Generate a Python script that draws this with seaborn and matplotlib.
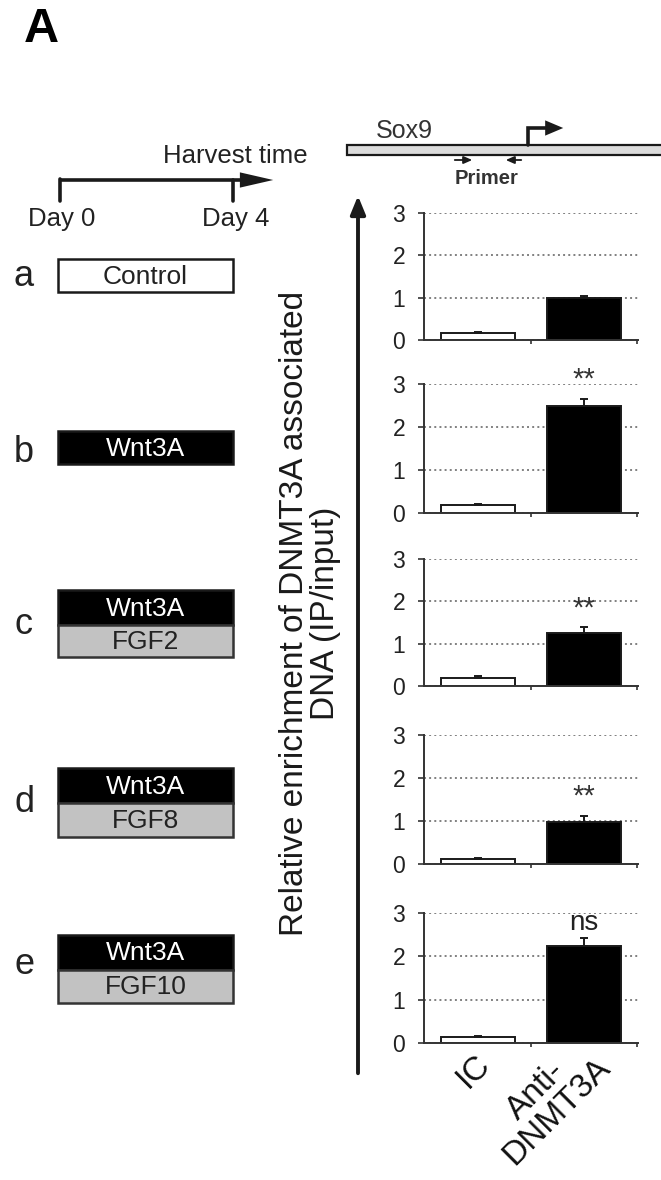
import matplotlib
matplotlib.use("Agg")
import matplotlib.pyplot as plt
import matplotlib.transforms as mtransforms
from matplotlib.patches import Rectangle, FancyArrowPatch
import seaborn as sns
import pandas as pd
import numpy as np

# ---------------- data ----------------
antibodies = ["IC", "Anti-DNMT3A"]
tick_labels = ["IC", "Anti-\nDNMT3A"]
conditions = ["a", "b", "c", "d", "e"]
cond_top = ["Control", "Wnt3A", "Wnt3A", "Wnt3A", "Wnt3A"]
cond_bottom = [None, None, "FGF2", "FGF8", "FGF10"]
ic_values = [0.17, 0.19, 0.20, 0.12, 0.15]
ic_errors = [0.02, 0.03, 0.03, 0.01, 0.01]
anti_values = [1.00, 2.49, 1.25, 0.98, 2.24]
anti_errors = [0.05, 0.16, 0.14, 0.14, 0.18]
significance = ["", "**", "**", "**", "ns"]
y_ticks = [0, 1, 2, 3]

# ---------------- style ----------------
sns.set_theme(style="white")
plt.rcParams["font.family"] = ["Liberation Sans", "DejaVu Sans"]

W, H = 661, 1180
fig = plt.figure(figsize=(W / 100, H / 100), dpi=100)

# overlay axes in pixel coordinates for the schematic parts
ov = fig.add_axes([0, 0, 1, 1])
ov.set_xlim(0, W)
ov.set_ylim(H, 0)
ov.axis("off")

dark = "#1a1a1a"

# panel letter
ov.text(24, 29, "A", fontsize=35, fontweight="bold", va="center", ha="left", color="black")

# timeline
ov.plot([60, 246], [180, 180], color=dark, lw=2.6, solid_capstyle="butt")
ov.plot([60, 60], [179, 201], color=dark, lw=2.6)
ov.plot([233, 233], [180, 201], color=dark, lw=2.6)
ov.add_patch(FancyArrowPatch((238, 180), (276, 180), arrowstyle="-|>,head_length=2.4,head_width=0.55",
                             mutation_scale=10, color=dark, lw=0))
ov.text(235, 156, "Harvest time", fontsize=18.5, ha="center", va="center", color="#222")
ov.text(62, 219, "Day 0", fontsize=18.5, ha="center", va="center", color="#222")
ov.text(236, 219, "Day 4", fontsize=18.5, ha="center", va="center", color="#222")

# condition boxes
box_rows = [(259, 292, None), (431, 464, None), (590, 625, 657), (768, 803, 837), (935, 970, 1003)]
letter_y = [277, 452, 625, 802, 965]
bx0, bx1 = 58, 233
for i, (t, m, b) in enumerate(box_rows):
    ov.text(24, letter_y[i], conditions[i], fontsize=26, ha="center", va="center", color="#222")
    if cond_top[i] == "Control":
        ov.add_patch(Rectangle((bx0, t), bx1 - bx0, m - t, facecolor="white", edgecolor=dark, lw=1.8))
        ov.text((bx0 + bx1) / 2, (t + m) / 2 + 1, cond_top[i], fontsize=19, ha="center", va="center", color="#222")
    else:
        ov.add_patch(Rectangle((bx0, t), bx1 - bx0, m - t, facecolor="black", edgecolor=dark, lw=1.8))
        ov.text((bx0 + bx1) / 2, (t + m) / 2 + 1, cond_top[i], fontsize=19, ha="center", va="center", color="white")
    if b is not None:
        ov.add_patch(Rectangle((bx0, m), bx1 - bx0, b - m, facecolor="#c2c2c2", edgecolor="#333", lw=1.8))
        ov.text((bx0 + bx1) / 2, (m + b) / 2 + 1, cond_bottom[i], fontsize=19, ha="center", va="center", color="#222")

# gene diagram
ov.add_patch(Rectangle((347, 145), 320, 10, facecolor="#dcdcdc", edgecolor=dark, lw=1.6, clip_on=False))
ov.text(376, 131, "Sox9", fontsize=18, ha="left", va="center", color="#333")
ov.plot([528, 528, 548], [145, 128, 128], color=dark, lw=2.6, solid_joinstyle="miter")
ov.add_patch(FancyArrowPatch((540, 128), (566, 128), arrowstyle="-|>,head_length=1.3,head_width=0.55",
                             mutation_scale=10, color=dark, lw=0))
ov.add_patch(FancyArrowPatch((452, 160), (475, 160), arrowstyle="-|>,head_length=0.5,head_width=0.22",
                             mutation_scale=10, color=dark, lw=1.3))
ov.add_patch(FancyArrowPatch((524, 160), (503, 160), arrowstyle="-|>,head_length=0.5,head_width=0.22",
                             mutation_scale=10, color=dark, lw=1.3))
ov.text(487, 178, "Primer", fontsize=14.5, fontweight="bold", ha="center", va="center", color="#333")

# big y arrow and label
ov.add_patch(FancyArrowPatch((358, 1076), (358, 193), arrowstyle="-|>,head_length=1.1,head_width=0.45",
                             mutation_scale=10, color=dark, lw=2.8))
ov.text(310, 613, "Relative enrichment of DNMT3A associated\nDNA (IP/input)", rotation=90,
        fontsize=24, ha="center", va="center", linespacing=1.0, multialignment="center", color="#1a1a1a")

# ---------------- bar panels ----------------
panel_tops = [213, 384, 559, 735, 913]
panel_bottoms = [340, 513, 686, 864, 1043]
ax_left, ax_right = 424, 638
bar_colors = {"IC": "white", "Anti-DNMT3A": "black"}
label_shift_px = [(-4, 0), (-10, 17)]

for i in range(5):
    t, b = panel_tops[i], panel_bottoms[i]
    ax = fig.add_axes([ax_left / W, 1 - b / H, (ax_right - ax_left) / W, (b - t) / H])
    df = pd.DataFrame({"Antibody": antibodies, "Enrichment": [ic_values[i], anti_values[i]]})
    sns.barplot(data=df, x="Antibody", y="Enrichment", hue="Antibody", order=antibodies,
                palette=bar_colors, edgecolor=dark, linewidth=1.4, width=0.69,
                errorbar=None, legend=False, ax=ax)
    vals = [ic_values[i], anti_values[i]]
    errs = [ic_errors[i], anti_errors[i]]
    ax.errorbar([0, 1], vals, yerr=[[0, 0], errs], fmt="none", ecolor=dark,
                elinewidth=1.4, capsize=3, capthick=1.4, zorder=5)
    ax.set_xlim(-0.51, 1.51)
    ax.set_ylim(0, 3)
    ax.set_yticks(y_ticks)
    ax.set_yticklabels([str(v) for v in y_ticks], fontsize=16.5, color="#222")
    ax.yaxis.grid(True, linestyle=":", color="#808080", linewidth=1.4)
    ax.xaxis.grid(False)
    ax.set_axisbelow(True)
    for s in ["top", "right"]:
        ax.spines[s].set_visible(False)
    for s in ["left", "bottom"]:
        ax.spines[s].set_color("#333")
        ax.spines[s].set_linewidth(1.4)
    ax.tick_params(axis="y", direction="out", length=4.5, width=1.2, color="#333", pad=9, left=True)
    ax.set_xticks([0.5, 1.5], minor=True)
    ax.tick_params(axis="x", which="minor", direction="out", length=3, width=1.2, color="#333", bottom=True)
    ax.tick_params(axis="x", which="major", length=0)
    ax.set_xlabel("")
    ax.set_ylabel("")
    ax.set_xticks([0, 1])
    if i < 4:
        ax.set_xticklabels([])
    else:
        ax.set_xticklabels(tick_labels, rotation=45, ha="right", va="top", rotation_mode="anchor",
                           fontsize=24, multialignment="center", linespacing=0.92, color="#111")
        ax.tick_params(axis="x", which="major", pad=4)
        for lab, (dx, dy) in zip(ax.get_xticklabels(), label_shift_px):
            lab.set_transform(lab.get_transform() +
                              mtransforms.ScaledTranslation(dx / 100, dy / 100, fig.dpi_scale_trans))
    sig = significance[i]
    if sig:
        top = anti_values[i] + anti_errors[i]
        if sig == "ns":
            ax.text(1, top + 0.06, sig, fontsize=20, ha="center", va="bottom", color="#222", clip_on=False)
        else:
            ax.text(1, top + 0.12, sig, fontsize=21, ha="center", va="bottom", color="#333", clip_on=False)

fig.savefig("out.png", dpi=100)
